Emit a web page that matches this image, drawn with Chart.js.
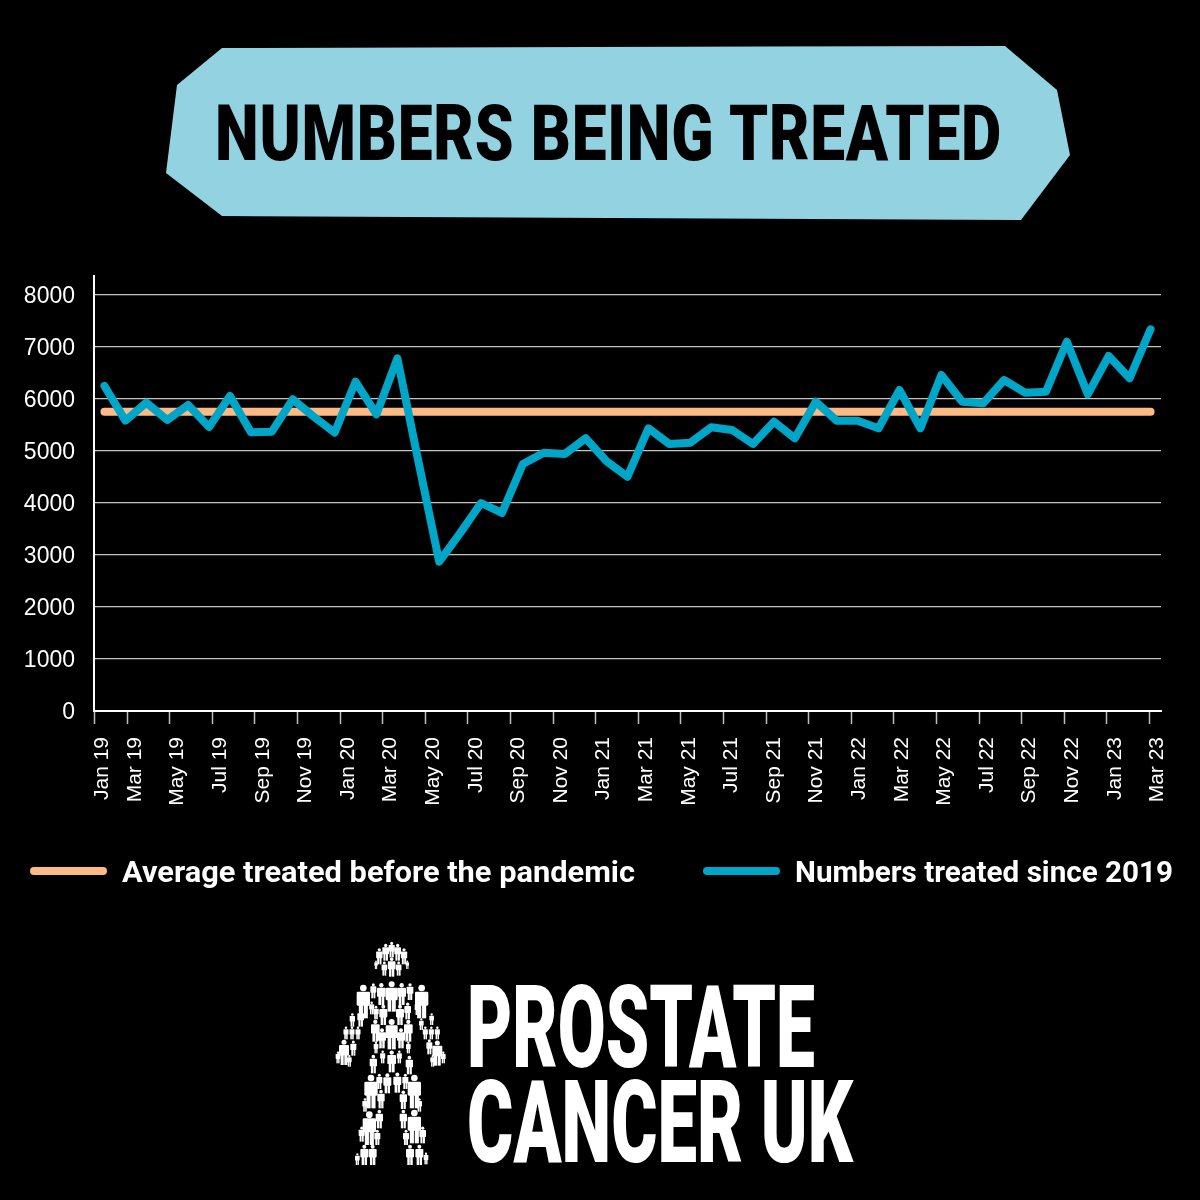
<!DOCTYPE html>
<html>
<head>
<meta charset="utf-8">
<title>Numbers being treated</title>
<script src="https://cdn.jsdelivr.net/npm/chart.js@4"></script>
<style>
  html, body { margin: 0; background: #000; }
  #page { position: relative; width: 1200px; height: 1200px; overflow: hidden; background: #000; }
  #page > * { position: absolute; }
  #banner { left: 0; top: 0; }
  #chart { left: 0; top: 0; }
  .fit { white-space: nowrap; transform-origin: left top; line-height: 1; font-family: Roboto, sans-serif; font-weight: 900; }
  #title { left: 215px; top: 95px; font-size: 78px; color: #000; letter-spacing: 1px; }
  #logo1 { left: 467px; top: 970px; font-size: 115px; color: #fff; }
  #logo2 { left: 467px; top: 1065px; font-size: 115px; color: #fff; }
  #figure { left: 320px; top: 930px; }
  .swatch { top: 867px; width: 77px; height: 8px; border-radius: 4px; }
  .key { top: 857px; font-size: 30px; font-weight: 700; color: #fff; }
</style>
</head>
<body>
<div id="page">
  <svg id="banner" width="1200" height="260"><polygon points="222,48 1005,46 1057,90 1070,155 1021,220 222,216 166,173 177,85" fill="#92d2e1"/></svg>
  <div id="title" class="fit" data-w="787">NUMBERS BEING TREATED</div>
  <canvas id="chart" width="1200" height="960"></canvas>
  <div class="swatch" id="swatch0" style="left:30px"></div>
  <div class="key fit" id="key0" style="left:122px" data-w="513"></div>
  <div class="swatch" id="swatch1" style="left:703px"></div>
  <div class="key fit" id="key1" style="left:795px" data-w="378"></div>
  <svg id="figure" width="140" height="250" viewBox="0 0 420 750"></svg>
  <div id="logo1" class="fit" data-w="348">PROSTATE</div>
  <div id="logo2" class="fit" data-w="386">CANCER UK</div>
</div>
<script>
const months = ['Jan 19','Feb 19','Mar 19','Apr 19','May 19','Jun 19','Jul 19','Aug 19','Sep 19','Oct 19','Nov 19','Dec 19',
  'Jan 20','Feb 20','Mar 20','Apr 20','May 20','Jun 20','Jul 20','Aug 20','Sep 20','Oct 20','Nov 20','Dec 20',
  'Jan 21','Feb 21','Mar 21','Apr 21','May 21','Jun 21','Jul 21','Aug 21','Sep 21','Oct 21','Nov 21','Dec 21',
  'Jan 22','Feb 22','Mar 22','Apr 22','May 22','Jun 22','Jul 22','Aug 22','Sep 22','Oct 22','Nov 22','Dec 22',
  'Jan 23','Feb 23','Mar 23'];
const treated = [6250,5583,5930,5596,5885,5460,6058,5360,5372,5994,5660,5352,
  6333,5705,6782,4810,2871,3420,4000,3808,4750,4967,4942,5244,
  4802,4506,5436,5135,5160,5455,5404,5135,5564,5244,5948,5583,
  5583,5436,6173,5436,6462,5948,5917,6365,6121,6140,7102,6090,
  6827,6398,7340];
const average = [5756,5756,5756,5756,5756,5756,5756,5756,5756,5756,5756,5756,
  5756,5756,5756,5756,5756,5756,5756,5756,5756,5756,5756,5756,
  5756,5756,5756,5756,5756,5756,5756,5756,5756,5756,5756,5756,
  5756,5756,5756,5756,5756,5756,5756,5756,5756,5756,5756,5756,
  5756,5756,5756];
const yTicks = [0,1000,2000,3000,4000,5000,6000,7000,8000];
const xTickLabels = ['Jan 19','Mar 19','May 19','Jul 19','Sep 19','Nov 19','Jan 20','Mar 20','May 20','Jul 20','Sep 20','Nov 20',
  'Jan 21','Mar 21','May 21','Jul 21','Sep 21','Nov 21','Jan 22','Mar 22','May 22','Jul 22','Sep 22','Nov 22','Jan 23','Mar 23'];

const xMin = 0.45; // first tick sits on the y axis in the original

const chart = new Chart(document.getElementById('chart'), {
  type: 'line',
  data: {
    labels: months,
    datasets: [
      { label: 'Average treated before the pandemic', data: average, borderColor: '#fdba85', backgroundColor: '#fdba85',
        borderWidth: 8, borderCapStyle: 'round', pointRadius: 0, order: 2 },
      { label: 'Numbers treated since 2019', data: treated, borderColor: '#00a6c8', backgroundColor: '#00a6c8',
        borderWidth: 8, borderCapStyle: 'round', borderJoinStyle: 'round', pointRadius: 0, tension: 0, order: 1 }
    ]
  },
  options: {
    responsive: false,
    animation: false,
    layout: { padding: { top: 276, right: 39, bottom: 149, left: 0 } },
    scales: {
      x: { type: 'category', offset: true, display: false },
      xTicks: {
        type: 'linear', position: 'bottom', min: xMin, max: 50.54,
        afterBuildTicks: axis => { axis.ticks = xTickLabels.map((_, i) => ({ value: Math.max(i * 2, xMin) })); },
        afterFit: axis => { axis.height = 100; },
        border: { color: '#fff', width: 2 },
        grid: { drawOnChartArea: false, tickLength: 13, tickColor: '#bdbdbd', tickWidth: 1.5 },
        ticks: {
          autoSkip: false, minRotation: 90, maxRotation: 90, padding: 13, labelOffset: 8, color: '#fff',
          font: { family: 'Liberation Sans', size: 21 },
          callback: (v, i) => xTickLabels[i]
        }
      },
      y: {
        min: 0, max: 8365,
        afterBuildTicks: axis => { axis.ticks = yTicks.map(v => ({ value: v })); },
        afterFit: axis => { axis.width = 94; },
        border: { color: '#fff', width: 2 },
        grid: { color: '#c4c4c4', lineWidth: 1.3, drawTicks: false },
        ticks: { padding: 19, labelOffset: 2, color: '#fff', font: { family: 'Liberation Sans', size: 23 }, callback: v => String(v) }
      }
    },
    plugins: {
      tooltip: { enabled: false },
      legend: { display: false }
    }
  }
});

// legend sits wider apart than the built in one allows, so it is plain html fed from the datasets
chart.data.datasets.forEach((ds, i) => {
  document.getElementById('swatch' + i).style.background = ds.borderColor;
  document.getElementById('key' + i).textContent = ds.label;
});

// squeeze the heavy headline and logo text to the widths of the condensed originals
document.querySelectorAll('.fit').forEach(el => {
  el.style.transform = 'scaleX(' + (el.dataset.w / el.getBoundingClientRect().width) + ')';
});

// logo figure made of little people: x, top, height in the figure's own 420x750 box
const people = [[178,55,48],[197,42,50],[215,36,46],[233,42,50],[252,55,48],[193,95,42],[215,82,58],[236,95,42],[168,92,25],[262,92,25],
  [130,165,100],[160,160,45],[184,160,65],[215,155,90],[245,160,65],[270,160,50],[305,165,100],
  [155,215,38],[168,228,40],[190,225,60],[240,225,60],[263,218,50],[292,215,40],[122,240,50],[97,250,40],[335,250,35],
  [78,290,38],[96,290,38],[114,290,38],[304,265,35],[316,290,38],[334,290,38],[352,290,38],
  [72,330,75],[100,332,45],[54,365,35],[88,375,35],[352,332,75],[328,328,45],[370,365,35],[338,375,35],
  [166,270,65],[186,295,60],[215,268,90],[243,295,60],[265,270,65],[168,335,35],[265,335,35],
  [160,375,55],[188,362,38],[215,362,65],[238,362,38],[268,378,55],
  [153,435,100],[178,432,45],[202,430,60],[232,428,60],[256,432,45],[283,435,100],[135,505,40],[183,480,55],[250,482,55],[298,505,40],
  [148,545,100],[178,540,55],[125,590,45],[172,600,45],[250,540,55],[283,540,100],[258,600,45],[308,590,50],
  [112,670,35],[133,645,60],[158,645,60],[270,645,60],[298,645,60],[318,668,35]];
document.getElementById('figure').innerHTML = people.map(([x, y, h]) => {
  const w = h * 0.4;
  return '<circle cx="' + x + '" cy="' + (y + h * 0.09) + '" r="' + h * 0.1 + '" fill="#fff"/>' +
    '<rect x="' + (x - w / 2) + '" y="' + (y + h * 0.2) + '" width="' + w + '" height="' + h * 0.42 + '" rx="' + h * 0.04 + '" fill="#fff"/>' +
    '<rect x="' + (x - w * 0.34) + '" y="' + (y + h * 0.55) + '" width="' + w * 0.31 + '" height="' + h * 0.45 + '" fill="#fff"/>' +
    '<rect x="' + (x + w * 0.03) + '" y="' + (y + h * 0.55) + '" width="' + w * 0.31 + '" height="' + h * 0.45 + '" fill="#fff"/>';
}).join('');
</script>
</body>
</html>
